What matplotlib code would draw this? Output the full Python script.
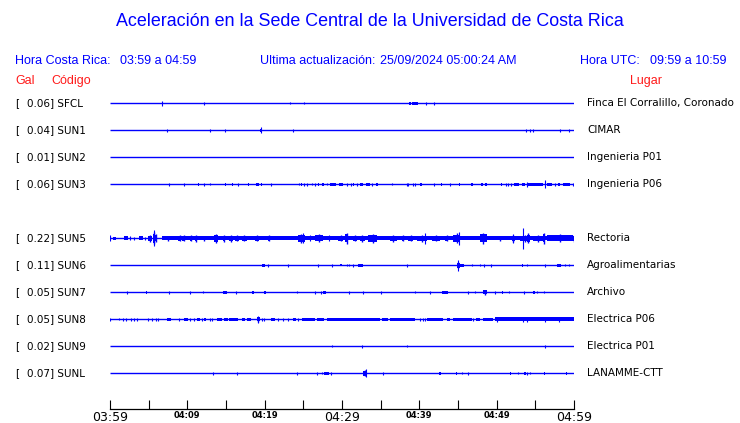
import matplotlib
matplotlib.use("Agg")
import matplotlib.pyplot as plt
import matplotlib.transforms as mtransforms

# Stations (SUN4 slot is empty in the reference)
codes = ["SFCL", "SUN1", "SUN2", "SUN3", "SUN5", "SUN6", "SUN7", "SUN8", "SUN9", "SUNL"]
gal = [0.06, 0.04, 0.01, 0.06, 0.22, 0.11, 0.05, 0.05, 0.02, 0.07]
places = ["Finca El Corralillo, Coronado", "CIMAR", "Ingenieria P01", "Ingenieria P06",
          "Rectoria", "Agroalimentarias", "Archivo", "Electrica P06", "Electrica P01",
          "LANAMME-CTT"]
slots = [0, 1, 2, 3, 5, 6, 7, 8, 9, 10]

# time axis: minutes after 03:59
tick_min = list(range(0, 61, 5))
tick_text = ["03:59", "", "04:09", "", "04:19", "", "04:29", "", "04:39", "", "04:49", "", "04:59"]
big_ticks = ["03:59", "04:29", "04:59"]

# spikes: (minute, half amplitude); bursts: (start, end, half amplitude)
sfcl_spikes = [(6.76, 2.5), (12.19, 1.5), (23.3, 1.0), (25.1, 1.2), (40.9, 1.5), (41.9, 1.5)]
sfcl_bursts = [(38.66, 38.88, 1.5), (39.05, 39.83, 1.6)]

sun1_spikes = [(7.41, 1.5), (12.97, 1.5), (14.91, 1.5), (19.5, 3.0), (23.7, 1.5),
               (53.8, 1.5), (54.3, 1.5), (54.7, 1.5), (58.2, 1.5), (59.4, 1.5)]
sun1_bursts = [(19.45, 19.65, 1.5)]

sun2_spikes = []
sun2_bursts = []

sun3_spikes = [(7.67, 1.5), (9.61, 1.5), (12.19, 1.5), (12.97, 1.0), (16.59, 1.5), (20.86, 1.5),
               (24.48, 1.0), (25.13, 1.5), (25.51, 1.5), (26.16, 1.0), (26.55, 1.5), (28.02, 1.0),
               (30.69, 1.5), (31.12, 1.5), (31.90, 1.5), (33.88, 1.5), (36.50, 1.0), (38.37, 1.5),
               (38.57, 1.5), (39.14, 1.5), (39.48, 1.5), (41.94, 1.5), (44.00, 1.5), (51.17, 1.5),
               (51.50, 1.5), (51.89, 1.5), (53.96, 2.5), (56.25, 4.0), (57.54, 1.5), (59.91, 1.5)]
sun3_bursts = [(11.40, 11.55, 1.5), (14.90, 15.05, 1.5), (15.80, 15.95, 1.5), (17.87, 18.01, 1.5),
               (18.85, 19.30, 1.5), (19.55, 19.70, 1.5), (24.72, 24.86, 1.5), (26.87, 27.01, 1.5),
               (27.41, 27.63, 1.5), (28.45, 29.19, 1.5), (29.58, 30.17, 1.5), (31.45, 31.57, 1.5),
               (32.33, 32.68, 1.5), (33.10, 33.62, 1.5), (34.40, 34.69, 1.5), (40.15, 40.29, 1.5),
               (42.82, 42.96, 1.5), (45.10, 45.24, 1.5), (46.74, 46.88, 1.5), (48.03, 48.17, 1.5),
               (48.55, 48.69, 1.5), (50.58, 50.72, 1.5), (52.24, 52.93, 1.5), (53.24, 53.66, 1.5),
               (54.09, 56.03, 1.8), (56.47, 57.12, 1.5), (57.99, 58.13, 1.5), (58.62, 59.48, 1.5)]

sun5_spikes = [(0.0, 3.0), (2.59, 2.0), (3.14, 1.5), (4.53, 1.5), (5.70, 8.0), (25.0, 5.0),
               (25.86, 3.0), (28.32, 3.0), (40.73, 5.5), (45.17, 6.5), (52.15, 4.5), (53.44, 10.5)]
sun5_bursts = [(0.43, 0.74, 1.5), (1.85, 2.29, 2.0), (3.79, 4.31, 2.0), (4.87, 5.39, 3.5),
               (5.52, 5.82, 6.0), (5.82, 6.08, 4.0), (6.76, 60.0, 2.0), (6.89, 8.19, 2.5),
               (8.83, 9.18, 3.0), (9.35, 9.70, 3.0), (10.34, 10.64, 3.0), (10.99, 11.21, 3.5),
               (12.06, 12.28, 2.5), (13.49, 13.93, 4.5), (14.65, 14.87, 3.5), (15.43, 15.94, 3.5),
               (16.16, 16.68, 3.0), (17.03, 17.68, 3.0), (18.75, 19.27, 3.0), (20.47, 20.73, 3.0),
               (24.27, 25.21, 4.5), (26.51, 27.58, 4.0), (29.52, 30.17, 3.0), (30.39, 30.81, 5.5),
               (31.46, 31.90, 3.0), (32.33, 32.97, 3.5), (33.40, 34.49, 4.5), (36.21, 37.07, 3.5),
               (37.72, 37.93, 3.0), (38.57, 39.22, 3.0), (39.66, 40.95, 3.5), (41.60, 42.67, 3.0),
               (43.32, 43.75, 3.0), (44.39, 45.26, 5.0), (47.84, 48.71, 5.5), (50.00, 50.86, 2.5),
               (51.94, 52.37, 3.5), (53.02, 54.31, 3.5), (53.88, 54.31, 5.0), (54.74, 56.03, 3.5),
               (56.03, 56.25, 5.5), (56.47, 59.91, 4.0), (59.91, 60.0, 3.5)]

sun6_spikes = [(20.39, 1.5), (23.06, 1.5), (26.94, 1.5), (28.67, 1.5), (30.61, 1.0), (30.94, 1.0),
               (31.46, 1.5), (38.37, 1.5), (45.04, 5.5), (46.77, 1.0), (47.84, 1.0), (48.40, 1.5),
               (49.23, 1.5), (53.96, 1.0), (56.25, 1.5), (58.84, 1.0), (59.39, 1.0)]
sun6_bursts = [(19.62, 20.04, 1.5), (29.74, 29.96, 1.0), (32.11, 32.68, 1.5), (44.83, 45.26, 3.0),
               (45.26, 45.78, 1.5), (53.24, 53.44, 1.5), (57.84, 58.28, 1.5)]

sun7_spikes = [(2.24, 1.5), (7.67, 1.5), (10.38, 1.5), (12.06, 1.0), (16.29, 1.5), (24.21, 1.0),
               (26.51, 1.5), (27.28, 1.5), (30.94, 1.5), (32.68, 1.5), (35.04, 1.5), (39.48, 1.0),
               (41.38, 1.5), (46.25, 1.5), (47.20, 1.0), (49.78, 1.5), (51.63, 1.0), (53.53, 1.5),
               (55.25, 1.0), (56.16, 1.0)]
sun7_bursts = [(4.68, 4.82, 1.5), (14.65, 15.09, 1.5), (18.32, 18.58, 1.5), (19.87, 20.13, 1.5),
               (27.58, 27.89, 1.5), (42.89, 43.75, 1.5), (48.19, 48.71, 2.5), (50.73, 50.86, 1.5),
               (54.74, 54.92, 1.5)]

sun8_spikes = [(0.0, 1.5), (1.20, 1.0), (1.72, 1.5), (2.03, 1.5), (2.72, 1.5), (3.14, 1.5),
               (3.53, 1.5), (4.87, 1.5), (5.39, 1.5), (5.91, 1.5), (6.25, 1.5), (8.92, 1.5),
               (10.38, 1.5), (10.90, 1.5), (11.94, 1.5), (12.93, 1.5), (13.23, 1.5), (19.18, 3.5),
               (19.62, 1.5), (19.95, 1.5), (21.69, 1.5), (22.41, 1.5), (23.06, 1.5), (24.27, 1.5),
               (40.09, 1.5), (40.43, 1.5), (40.73, 1.5), (46.98, 1.5), (49.99, 2.5), (53.44, 2.5),
               (53.96, 2.5), (56.25, 2.5), (58.10, 2.5)]
sun8_bursts = [(7.37, 7.89, 1.5), (9.61, 10.05, 1.5), (11.21, 11.64, 1.5), (12.19, 12.37, 1.5),
               (13.80, 14.44, 1.5), (14.78, 15.22, 1.5), (15.39, 16.51, 1.5), (17.11, 17.46, 1.5),
               (17.68, 18.23, 1.5), (18.97, 19.40, 2.5), (20.82, 21.34, 1.5), (23.70, 24.01, 1.5),
               (24.79, 26.51, 1.5), (26.73, 27.71, 1.5), (28.02, 34.91, 1.6), (35.13, 35.99, 1.3),
               (36.21, 39.44, 1.6), (40.95, 43.10, 1.6), (43.54, 43.97, 1.5), (44.39, 46.77, 1.6),
               (47.33, 47.84, 1.5), (48.27, 49.56, 1.6), (49.78, 60.0, 1.9)]

sun9_spikes = [(28.67, 1.0), (32.62, 1.5), (38.37, 1.0), (56.25, 1.5)]
sun9_bursts = []

sunl_spikes = [(13.36, 1.5), (16.38, 1.5), (24.14, 1.5), (26.81, 1.5), (27.38, 1.0), (28.58, 1.5),
               (33.06, 4.0), (35.34, 1.5), (45.48, 1.0), (46.33, 1.5), (52.80, 1.0), (53.96, 1.5),
               (54.31, 1.0)]
sunl_bursts = [(27.67, 28.32, 1.5), (32.75, 33.19, 3.0), (42.60, 42.74, 1.5), (44.76, 44.90, 1.5),
               (51.74, 51.88, 1.5), (53.59, 53.73, 1.5), (56.09, 56.23, 1.5), (58.99, 59.13, 1.5)]

all_spikes = [sfcl_spikes, sun1_spikes, sun2_spikes, sun3_spikes, sun5_spikes,
              sun6_spikes, sun7_spikes, sun8_spikes, sun9_spikes, sunl_spikes]
all_bursts = [sfcl_bursts, sun1_bursts, sun2_bursts, sun3_bursts, sun5_bursts,
              sun6_bursts, sun7_bursts, sun8_bursts, sun9_bursts, sunl_bursts]

BLUE = "#0000ff"
RED = "#ff1a1a"
AMP = 1 / 27.0  # amplitude unit -> row spacing

W, H = 740, 423
fig = plt.figure(figsize=(W / 100, H / 100), dpi=100)
ax = fig.add_axes([110 / W, 1 - 409.3 / H, 464 / W, (409.3 - 89.5) / H])
ax.set_xlim(0, 60)
ax.set_ylim(11.333, -0.511)

for row, spk, bst in zip(slots, all_spikes, all_bursts):
    ax.plot([0, 60], [row, row], color=BLUE, lw=1.0, solid_capstyle="butt")
    for t0, t1, h in bst:
        core = h if h <= 2 else 0.75 * h
        ax.bar(t0, 2 * core * AMP, width=t1 - t0, bottom=row - core * AMP, align="edge",
               color=BLUE, linewidth=0)
        if h > 2:
            # strongest swing of the burst
            ax.vlines((t0 + t1) / 2, row - h * AMP, row + h * AMP, color=BLUE, lw=1.0)
    for t, h in spk:
        ax.vlines(t, row - h * AMP, row + h * AMP, color=BLUE, lw=0.8)

for s in ["top", "left", "right"]:
    ax.spines[s].set_visible(False)
ax.spines["bottom"].set_linewidth(0.9)
ax.set_yticks([])
ax.set_xticks(tick_min)
ax.set_xticklabels(tick_text)
ax.tick_params(axis="x", direction="in", length=6.5, width=0.8, pad=1)
for lab in ax.get_xticklabels():
    if lab.get_text() in big_ticks:
        lab.set_fontsize(9)
    else:
        lab.set_fontsize(6)
        lab.set_fontweight("bold")

# station labels tied to rows
tr = mtransforms.blended_transform_factory(fig.transFigure, ax.transData)
for row, code, g, place in zip(slots, codes, gal, places):
    ax.text(15 / W, row, "[", transform=tr, fontsize=7.5, va="center", ha="left")
    ax.text(27 / W, row, f"{g:.2f}] {code}", transform=tr, fontsize=7.5, va="center", ha="left")
    ax.text(587 / W, row, place, transform=tr, fontsize=7.5, va="center", ha="left")

hfont = "Liberation Sans"
fig.text(370 / W, 1 - 22 / H, "Aceleración en la Sede Central de la Universidad de Costa Rica",
         color=BLUE, fontsize=12.9, family=hfont, ha="center", va="center")
fig.text(15 / W, 1 - 61 / H, "Hora Costa Rica:", color=BLUE, fontsize=9, family=hfont, va="center")
fig.text(120 / W, 1 - 61 / H, "03:59 a 04:59", color=BLUE, fontsize=9, family=hfont, va="center")
fig.text(260 / W, 1 - 61 / H, "Ultima actualización:", color=BLUE, fontsize=9, family=hfont, va="center")
fig.text(380 / W, 1 - 61 / H, "25/09/2024 05:00:24 AM", color=BLUE, fontsize=9, family=hfont, va="center")
fig.text(580 / W, 1 - 61 / H, "Hora UTC:", color=BLUE, fontsize=9, family=hfont, va="center")
fig.text(650 / W, 1 - 61 / H, "09:59 a 10:59", color=BLUE, fontsize=9, family=hfont, va="center")
fig.text(15 / W, 1 - 81 / H, "Gal", color=RED, fontsize=9, family=hfont, va="center")
fig.text(51 / W, 1 - 81 / H, "Código", color=RED, fontsize=9, family=hfont, va="center")
fig.text(630 / W, 1 - 81 / H, "Lugar", color=RED, fontsize=9, family=hfont, va="center")

fig.savefig("out.png", dpi=100)
